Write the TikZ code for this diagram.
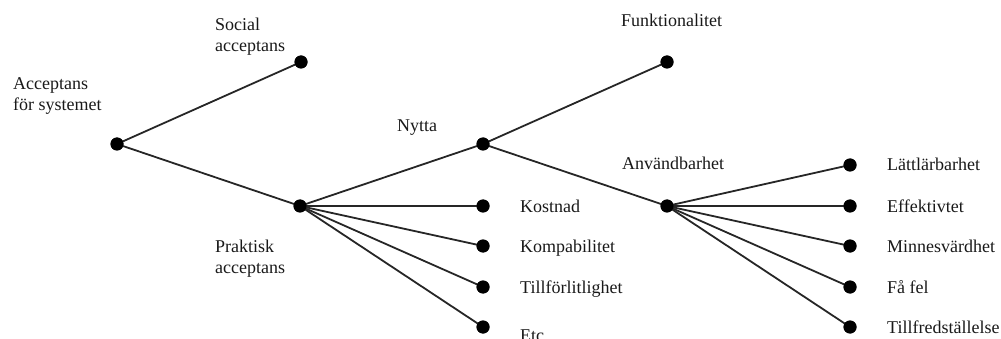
\documentclass[tikz,border=0pt]{standalone}
\usepackage{fontspec}
\setmainfont{Liberation Serif}
\begin{document}
\begin{tikzpicture}[x=1pt,y=-1pt,
  dot/.style={circle,fill=black,inner sep=0pt,minimum size=13pt},
  edge/.style={line width=1.8pt,black!85},
  lbl/.style={anchor=base west,inner sep=0pt,align=left,
    font=\fontsize{18}{21}\selectfont,text=black!90}]
\useasboundingbox (0,0) rectangle (1001,339);
\clip (0,0) rectangle (1001,339);

% branch points and leaves
\node[dot] (root) at (117,144) {};
\node[dot] (soc)  at (301,62)  {};
\node[dot] (prak) at (300,206) {};
\node[dot] (nyt)  at (483,144) {};
\node[dot] (funk) at (667,62)  {};
\node[dot] (anv)  at (667,206) {};
\node[dot] (kost) at (483,206) {};
\node[dot] (komp) at (483,246) {};
\node[dot] (till) at (483,287) {};
\node[dot] (etc)  at (483,327) {};
\node[dot] (latt) at (850,165) {};
\node[dot] (eff)  at (850,206) {};
\node[dot] (minn) at (850,246) {};
\node[dot] (fa)   at (850,287) {};
\node[dot] (tfr)  at (850,327) {};

% connectors
\foreach \a/\b in {root/soc,root/prak,prak/nyt,nyt/funk,nyt/anv,
                   prak/kost,prak/komp,prak/till,prak/etc,
                   anv/latt,anv/eff,anv/minn,anv/fa,anv/tfr}
  \draw[edge] (\a.center) -- (\b.center);
\foreach \n in {root,soc,prak,nyt,funk,anv,kost,komp,till,etc,latt,eff,minn,fa,tfr}
  \fill (\n.center) circle (6.5pt);

% labels (two-line labels are placed by the baseline of their last line)
\node[lbl] (l-root) at (13,111)  {Acceptans\\för systemet};
\node[lbl] (l-soc)  at (215,52)  {Social\\acceptans};
\node[lbl] (l-prak) at (215,273) {Praktisk\\acceptans};
\node[lbl] (l-nyt)  at (397,132) {Nytta};
\node[lbl] (l-funk) at (621,27)  {Funktionalitet};
\node[lbl] (l-anv)  at (622,170) {Användbarhet};
\node[lbl] (l-kost) at (520,212) {Kostnad};
\node[lbl] (l-komp) at (520,252) {Kompabilitet};
\node[lbl] (l-till) at (520,293) {Tillförlitlighet};
\node[lbl] (l-etc)  at (520,341) {Etc.};
\node[lbl] (l-latt) at (887,171) {Lättlärbarhet};
\node[lbl] (l-eff)  at (887,212) {Effektivtet};
\node[lbl] (l-minn) at (887,252) {Minnesvärdhet};
\node[lbl] (l-fa)   at (887,293) {Få fel};
\node[lbl] (l-tfr)  at (887,333) {Tillfredställelse};
\end{tikzpicture}
\end{document}
